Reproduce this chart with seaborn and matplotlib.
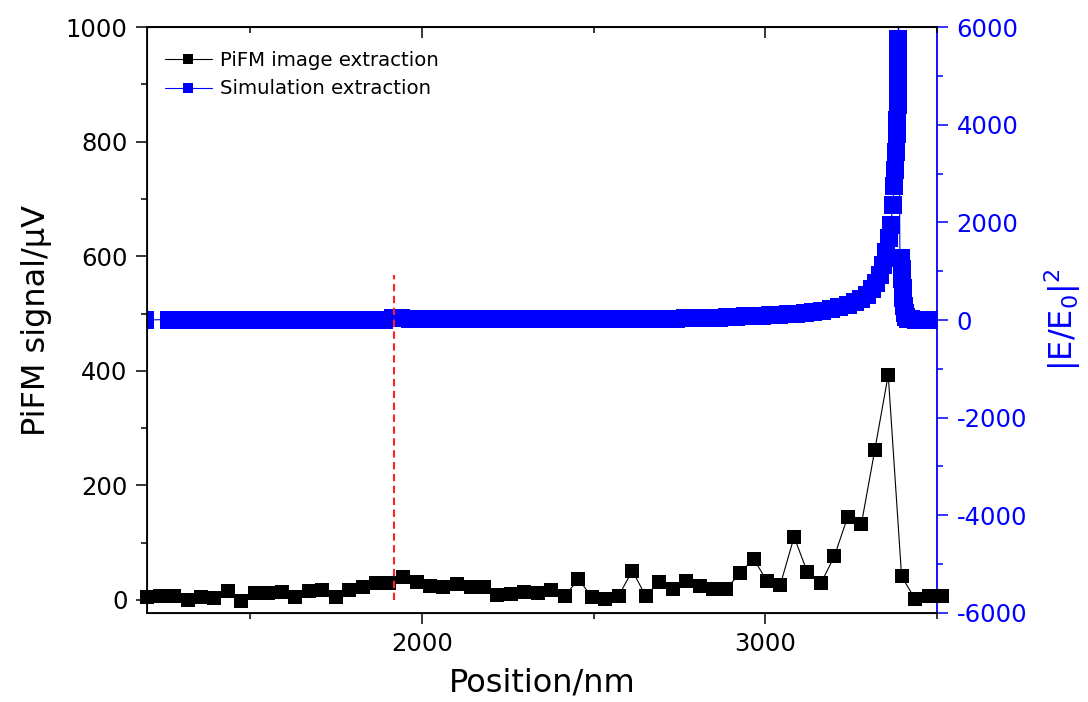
import matplotlib
matplotlib.use("Agg")
import matplotlib.pyplot as plt
import seaborn as sns
from matplotlib.ticker import MultipleLocator
from matplotlib.lines import Line2D

# ---------------- data ----------------
pifm_x = [1200, 1239, 1278, 1318, 1357, 1396, 1435, 1475, 1514, 1553,
          1592, 1632, 1671, 1710, 1749, 1789, 1828, 1867, 1906, 1946,
          1985, 2024, 2063, 2103, 2142, 2181, 2220, 2259, 2299, 2338,
          2377, 2416, 2456, 2495, 2534, 2573, 2613, 2652, 2691, 2730,
          2770, 2809, 2848, 2887, 2927, 2966, 3005, 3044, 3084, 3123,
          3162, 3201, 3240, 3280, 3319, 3358, 3397, 3437, 3476, 3515]
pifm_y = [6, 7, 7, 0, 6, 3, 16, -2, 12, 12,
          14, 6, 16, 17, 6, 17, 23, 29, 29, 40,
          32, 25, 22, 28, 22, 22, 9, 10, 14, 12,
          17, 7, 36, 6, 1, 7, 51, 7, 31, 19,
          33, 25, 20, 20, 47, 72, 33, 27, 110, 48,
          29, 76, 145, 133, 262, 393, 41, 1, 7, 7]

sim_x = [1195, 1265, 1290, 1315, 1340, 1365, 1390, 1415, 1440, 1465,
         1490, 1515, 1540, 1565, 1590, 1615, 1640, 1665, 1690, 1715,
         1740, 1765, 1790, 1815, 1840, 1865, 1890, 1915, 1940, 1965,
         1990, 2015, 2040, 2065, 2090, 2115, 2140, 2165, 2190, 2215,
         2240, 2265, 2290, 2315, 2340, 2365, 2390, 2415, 2440, 2465,
         2490, 2515, 2540, 2565, 2590, 2615, 2640, 2665, 2690, 2715,
         2740, 2765, 2790, 2815, 2840, 2865, 2890, 2915, 2940, 2965,
         2990, 3015, 3040, 3065, 3090, 3115, 3140, 3165, 3190, 3215,
         3240, 3260, 3280, 3295, 3310, 3322, 3333, 3343, 3352, 3360,
         3366, 3371, 3375, 3378, 3381, 3383, 3385, 3386, 3386, 3386,
         3387, 3387, 3387, 3388, 3392, 3396, 3398, 3399, 3400, 3401,
         3403, 3406, 3410, 3416, 3425, 3440, 3460, 3480, 3500]
sim_y = [0, 10, 10, 10, 10, 10, 10, 10, 10, 10,
         10, 10, 10, 10, 10, 10, 10, 10, 10, 10,
         10, 10, 10, 10, 10, 10, 10, 45, 45, 12,
         12, 12, 12, 12, 12, 12, 12, 12, 12, 12,
         12, 12, 12, 12, 12, 12, 12, 12, 12, 12,
         12, 15, 16, 17, 18, 19, 20, 22, 24, 26,
         29, 32, 36, 40, 45, 50, 58, 65, 72, 80,
         88, 97, 107, 118, 132, 148, 165, 190, 225, 265,
         315, 370, 440, 510, 640, 760, 920, 1120, 1400, 1680,
         1950, 2350, 2750, 3070, 3450, 3800, 4100, 4400, 4700, 5000,
         5250, 5500, 5750, 6800, 1270, 1270, 1050, 850, 650, 450,
         280, 150, 70, 30, 15, 10, 10, 10, 10]

marker_line_x = 1920
marker_line_top = 567

labels = ["PiFM image extraction", "Simulation extraction"]

# ---------------- style ----------------
sns.set_style("ticks")
plt.rcParams["font.family"] = ["DejaVu Sans"]
plt.rcParams["mathtext.default"] = "regular"
plt.rcParams["axes.unicode_minus"] = False
for k in ["text.color", "axes.labelcolor", "xtick.color", "ytick.color",
          "axes.edgecolor"]:
    plt.rcParams[k] = "black"

fig = plt.figure(figsize=(10.88, 7.02), dpi=100)
ax = fig.add_axes([0.1351, 0.1268, 0.7261, 0.8347])
ax2 = ax.twinx()
ax.set_zorder(ax2.get_zorder() + 1)
ax.patch.set_visible(False)

blue = "#0000ff"

sns.lineplot(x=sim_x, y=sim_y, ax=ax2, estimator=None, sort=False,
             color=blue, marker="s", markersize=12.5, markeredgewidth=0,
             markeredgecolor=blue, linewidth=0.8)
sns.lineplot(x=pifm_x, y=pifm_y, ax=ax, estimator=None, sort=False,
             color="black", marker="s", markersize=9.8, markeredgewidth=0,
             markeredgecolor="black", linewidth=0.8, clip_on=False)

ax.vlines(marker_line_x, 0, marker_line_top, colors="#ff2020",
          linestyles=(0, (3.5, 2.2)), linewidth=1.5)

ax.set_xlim(1200, 3500)
ax.set_ylim(-22.7, 1000)
ax2.set_ylim(-6000, 6000)

ax.xaxis.set_major_locator(MultipleLocator(1000))
ax.xaxis.set_minor_locator(MultipleLocator(500))
ax.yaxis.set_major_locator(MultipleLocator(200))
ax.yaxis.set_minor_locator(MultipleLocator(100))
ax2.yaxis.set_major_locator(MultipleLocator(2000))
ax2.yaxis.set_minor_locator(MultipleLocator(1000))

ax.tick_params(axis="both", which="major", direction="out", length=8,
               width=1.1, labelsize=17.5, pad=6, color="black",
               labelcolor="black")
ax.tick_params(axis="both", which="minor", direction="out", length=4,
               width=1.1, color="black")
ax2.tick_params(axis="y", which="major", direction="out", length=8,
                width=1.1, labelsize=17.5, pad=6, colors=blue)
ax2.tick_params(axis="y", which="minor", direction="out", length=4,
                width=1.1, colors=blue)

sec = ax.secondary_xaxis("top")
sec.xaxis.set_major_locator(MultipleLocator(1000))
sec.xaxis.set_minor_locator(MultipleLocator(500))
sec.tick_params(axis="x", which="major", direction="in", length=8, width=1.1,
                labeltop=False, color="black")
sec.tick_params(axis="x", which="minor", direction="in", length=4, width=1.1,
                labeltop=False, color="black")
sec.spines["top"].set_linewidth(1.3)

for s in ["left", "bottom", "top"]:
    ax.spines[s].set_linewidth(1.3)
    ax.spines[s].set_color("black")
ax.spines["right"].set_visible(False)
ax2.spines["right"].set_color(blue)
ax2.spines["right"].set_linewidth(1.3)

ax.set_xlabel("Position/nm", fontsize=23, labelpad=8)
ax.set_ylabel("PiFM signal/μV", fontsize=23, labelpad=10)
ax2.set_ylabel("|E/E$_0$|$^2$", fontsize=23, color=blue, labelpad=11)

if ax2.get_legend() is not None:
    ax2.get_legend().remove()
if ax.get_legend() is not None:
    ax.get_legend().remove()

handles = [
    Line2D([], [], color="black", marker="s", markersize=7.5, linewidth=0.8,
           markeredgewidth=0),
    Line2D([], [], color=blue, marker="s", markersize=7.5, linewidth=0.8,
           markeredgewidth=0),
]
ax.legend(handles, labels, loc="upper left", frameon=False, fontsize=14.2,
          handlelength=2.4, handletextpad=0.4, labelspacing=0.5,
          bbox_to_anchor=(0.0, 0.99), borderaxespad=0.5)

fig.savefig("out.png", dpi=100)
